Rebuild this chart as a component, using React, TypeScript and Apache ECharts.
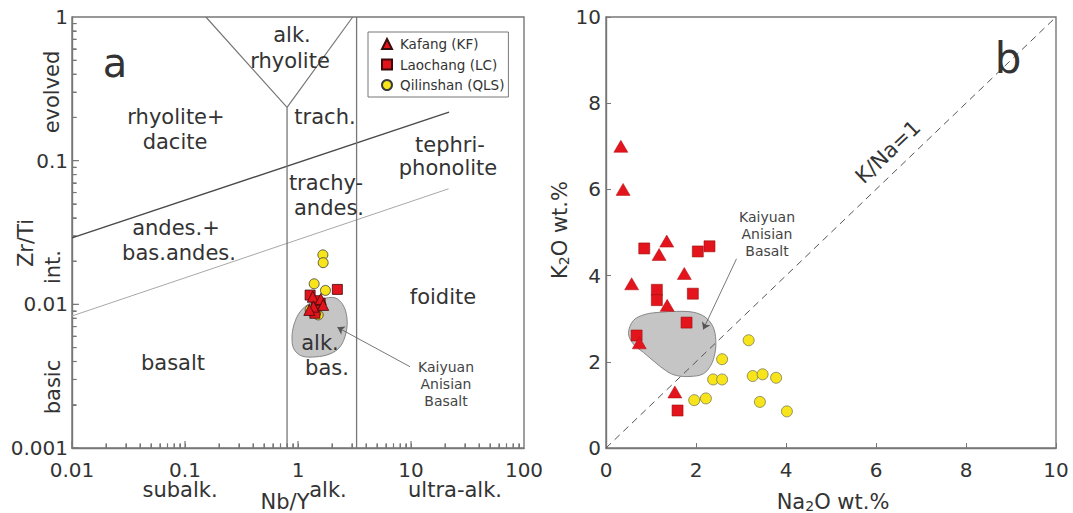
import React, { useEffect, useRef } from 'react';
import * as echarts from 'echarts';

// ---- Panel a: Zr/Ti vs Nb/Y (log-log) ----
const KF_A: number[][] = [[1.35, 0.0113], [1.59, 0.0109], [1.37, 0.00964], [1.67, 0.00991], [1.26, 0.00914]];
const LC_A: number[][] = [[2.23, 0.0127], [1.28, 0.0116], [1.41, 0.00867], [1.57, 0.0102], [1.45, 0.0106]];
const QLS_A: number[][] = [[1.66, 0.0221], [1.67, 0.0195], [1.39, 0.0139], [1.75, 0.0125], [1.28, 0.00914], [1.51, 0.00844], [1.44, 0.00875]];

// Kaiyuan Anisian Basalt field (panel a)
const BLOB_A: number[][] = [
  [1.04, 0.00885], [1.28, 0.0102], [1.63, 0.0109], [2.12, 0.0111], [2.5, 0.00991], [2.71, 0.00804],
  [2.66, 0.00632], [2.35, 0.00505], [1.92, 0.00452], [1.44, 0.00431], [1.08, 0.00437], [0.92, 0.00489],
  [0.885, 0.00584], [0.92, 0.00719],
];

// Field boundaries (panel a)
const UPPER_A: number[][] = [[0.01, 0.029], [21.7, 0.218]];
const LOWER_A: number[][] = [[0.01, 0.0083], [21.5, 0.0637]];
const TRIANGLE_A: number[][] = [[0.153, 1], [0.8, 0.235], [3.05, 1]];
const VLINE1_A: number[][] = [[0.8, 0.001], [0.8, 0.235]];
const VLINE2_A: number[][] = [[3.3, 0.001], [3.3, 1]];
const ARROW_A: number[][] = [[9.8, 0.00368], [2.23, 0.00692]];

// Log-axis tick structure
const DECADES_X = [0.01, 0.1, 1, 10];
const DECADES_Y = [0.001, 0.01, 0.1];
const MINOR_STEPS = [2, 3, 4, 5, 6, 7, 8, 9];

// ---- Panel b: K2O vs Na2O ----
const KF_B: number[][] = [[0.33, 7.0], [0.38, 6.0], [0.57, 3.81], [1.18, 4.49], [1.35, 4.8], [1.74, 4.05], [1.36, 3.31], [0.74, 2.44], [1.53, 1.3]];
const LC_B: number[][] = [[0.85, 4.63], [1.13, 3.67], [1.13, 3.43], [2.04, 4.56], [2.3, 4.68], [1.93, 3.58], [1.79, 2.91], [0.68, 2.61], [1.59, 0.87]];
const QLS_B: number[][] = [[3.17, 2.5], [2.58, 2.06], [2.38, 1.59], [2.58, 1.59], [3.26, 1.67], [3.48, 1.71], [3.78, 1.63], [1.96, 1.11], [2.22, 1.15], [3.42, 1.07], [4.02, 0.85]];

const BLOB_B: number[][] = [
  [0.5, 2.66], [0.61, 2.96], [0.87, 3.1], [1.2, 3.15], [1.57, 3.17], [1.94, 3.15], [2.2, 3.04], [2.38, 2.81],
  [2.44, 2.5], [2.42, 2.19], [2.33, 1.92], [2.16, 1.72], [1.87, 1.66], [1.57, 1.68], [1.35, 1.78], [1.09, 1.99],
  [0.83, 2.22], [0.61, 2.41],
];
const KNA_LINE: number[][] = [[0, 0], [10, 10]];
const ARROW_B: number[][] = [[2.9, 4.39], [2.16, 2.75]];

const NAMES = ['Kafang (KF)', 'Laochang (LC)', 'Qilinshan (QLS)'];

const FONT = 'DejaVu Sans';
const INK = '#333';
const FRAME = '#777';
const RED = '#e3141c';
const YELLOW = '#f7e41a';

function txt(text: string, x: number, y: number, fontSize: number, extra: any = {}) {
  const { style, ...rest } = extra;
  return {
    type: 'text',
    x,
    y,
    silent: true,
    z: 50,
    style: { text, fontSize, fontFamily: FONT, fill: INK, align: 'center', verticalAlign: 'middle', ...(style || {}) },
    ...rest,
  };
}

function sub(main1: string, s: string, main2: string, x: number, y: number, rotation = 0) {
  return {
    type: 'text',
    x,
    y,
    rotation,
    silent: true,
    z: 50,
    style: {
      text: `{a|${main1}}{s|${s}}{a|${main2}}`,
      align: 'center',
      verticalAlign: 'middle',
      fontFamily: FONT,
      rich: {
        a: { fontSize: 21, fontFamily: FONT, fill: INK, color: INK },
        s: { fontSize: 14, fontFamily: FONT, fill: INK, color: INK, verticalAlign: 'bottom' },
      },
    },
  };
}

// log ticks, [value, isMajor]
const X_TICKS_A: number[][] = DECADES_X.flatMap((d) => [[d, 1], ...MINOR_STEPS.map((m) => [d * m, 0])]);
const Y_TICKS_A: number[][] = DECADES_Y.flatMap((d) => [[d, 1], ...MINOR_STEPS.map((m) => [d * m, 0])]);
const tickLen = (major: number) => (major ? 7 : 4.5);

// Field polygon; panel a also carries its inward log ticks in the same group
function blobSeries(idx: number, pts: number[][], withTicks: boolean) {
  return {
    type: 'custom',
    xAxisIndex: idx,
    yAxisIndex: idx,
    silent: true,
    data: pts,
    renderItem: (params: any, api: any) => {
      if (params.dataIndex !== 0) return null;
      const points = pts.map((p) => api.coord(p));
      const children: any[] = [
        {
          type: 'polygon',
          shape: { points, smooth: 0.35 },
          style: { fill: '#c5c5c5', stroke: '#7c7c7c', lineWidth: 0.9 },
        },
      ];
      if (withTicks) {
        X_TICKS_A.forEach(([v, major]) => {
          const p = api.coord([v, 0.001]);
          const l = tickLen(major);
          children.push({
            type: 'polygon',
            shape: { points: [[p[0] - 0.6, p[1]], [p[0] + 0.6, p[1]], [p[0] + 0.6, p[1] - l], [p[0] - 0.6, p[1] - l]] },
            style: { fill: FRAME },
          });
        });
        Y_TICKS_A.forEach(([v, major]) => {
          const p = api.coord([0.01, v]);
          const l = tickLen(major);
          children.push({
            type: 'polygon',
            shape: { points: [[p[0], p[1] - 0.6], [p[0] + l, p[1] - 0.6], [p[0] + l, p[1] + 0.6], [p[0], p[1] + 0.6]] },
            style: { fill: FRAME },
          });
        });
      }
      return { type: 'group', children };
    },
  };
}

function lineSeries(data: number[][], color: string, width: number, type: any = 'solid', extra: any = {}) {
  return {
    type: 'line',
    xAxisIndex: 0,
    yAxisIndex: 0,
    data,
    symbol: 'none',
    silent: true,
    lineStyle: { color, width, type },
    ...extra,
  };
}

function arrowMark(pts: number[][]) {
  return {
    silent: true,
    symbol: ['none', 'arrow'],
    symbolSize: 7,
    label: { show: false },
    lineStyle: { color: '#555', width: 0.8, type: 'solid' },
    data: [[{ coord: pts[0] }, { coord: pts[1] }]],
  };
}

const logFmt = (v: number) => String(parseFloat(Number(v).toPrecision(2)));

const axisLabel = { fontFamily: FONT, fontSize: 20, color: INK };

const option: any = {
  animation: false,
  backgroundColor: '#fff',
  grid: [
    { left: 72, top: 17, width: 452, height: 431, show: true, borderColor: FRAME, borderWidth: 1.4 },
    { left: 606, top: 17, width: 450, height: 431, show: true, borderColor: FRAME, borderWidth: 1.4 },
  ],
  xAxis: [
    {
      gridIndex: 0, type: 'log', logBase: 10, min: 0.01, max: 100,
      axisLine: { lineStyle: { color: FRAME, width: 1.4 } },
      axisTick: { show: true, inside: true, length: 4.5, customValues: X_TICKS_A.map((t) => t[0]), lineStyle: { color: FRAME } },
      splitLine: { show: false },
      axisLabel: { ...axisLabel, margin: 14, lineHeight: 16, formatter: logFmt },
    },
    {
      gridIndex: 1, type: 'value', min: 0, max: 10, interval: 2,
      axisLine: { lineStyle: { color: FRAME, width: 1.4 } },
      axisTick: { inside: true, length: 5, lineStyle: { color: FRAME } }, splitLine: { show: false },
      axisLabel: { ...axisLabel, margin: 14, lineHeight: 16 },
    },
  ],
  yAxis: [
    {
      gridIndex: 0, type: 'log', logBase: 10, min: 0.001, max: 1,
      axisLine: { lineStyle: { color: FRAME, width: 1.4 } },
      axisTick: { show: true, inside: true, length: 4.5, customValues: Y_TICKS_A.map((t) => t[0]), lineStyle: { color: FRAME } },
      splitLine: { show: false },
      axisLabel: { ...axisLabel, margin: 4, formatter: logFmt },
    },
    {
      gridIndex: 1, type: 'value', min: 0, max: 10, interval: 2,
      axisLine: { lineStyle: { color: FRAME, width: 1.4 } },
      axisTick: { inside: true, length: 5, lineStyle: { color: FRAME } }, splitLine: { show: false },
      axisLabel: { ...axisLabel, margin: 5 },
    },
  ],
  legend: {
    data: NAMES,
    orient: 'vertical',
    left: 368,
    top: 32,
    padding: [5, 4, 5, 13],
    itemWidth: 10,
    itemHeight: 10,
    itemGap: 6.5,
    borderColor: '#777',
    borderWidth: 1,
    selectedMode: false,
    textStyle: { fontFamily: FONT, fontSize: 13.5, color: INK, lineHeight: 14, padding: [0, 0, 0, 3] },
  },
  series: [
    // panel a
    blobSeries(0, BLOB_A, true),
    lineSeries(UPPER_A, '#4a4a4a', 1.4),
    lineSeries(LOWER_A, '#a8a8a8', 1),
    lineSeries(TRIANGLE_A, '#777', 1.2),
    lineSeries(VLINE1_A, '#777', 1.3),
    lineSeries(VLINE2_A, '#777', 1.3, 'solid', { markLine: arrowMark(ARROW_A) }),
    {
      name: NAMES[2], type: 'scatter', xAxisIndex: 0, yAxisIndex: 0, data: QLS_A, symbol: 'circle', symbolSize: 10,
      itemStyle: { color: YELLOW, borderColor: '#3a3a3a', borderWidth: 0.8, opacity: 1 },
    },
    {
      name: NAMES[1], type: 'scatter', xAxisIndex: 0, yAxisIndex: 0, data: LC_A, symbol: 'rect', symbolSize: 10,
      itemStyle: { color: RED, borderColor: '#3a0b0b', borderWidth: 0.8, opacity: 1 },
    },
    {
      name: NAMES[0], type: 'scatter', xAxisIndex: 0, yAxisIndex: 0, data: KF_A, symbol: 'triangle', symbolSize: 11,
      itemStyle: { color: RED, borderColor: '#3a0b0b', borderWidth: 0.8, opacity: 1 },
    },
    // panel b
    blobSeries(1, BLOB_B, false),
    {
      type: 'line', xAxisIndex: 1, yAxisIndex: 1, data: KNA_LINE, symbol: 'none', silent: true,
      lineStyle: { color: '#555', width: 1, type: [7, 5] },
      markLine: arrowMark(ARROW_B),
    },
    {
      name: NAMES[2], type: 'scatter', xAxisIndex: 1, yAxisIndex: 1, data: QLS_B, symbol: 'circle', symbolSize: 11,
      itemStyle: { color: YELLOW, borderColor: '#7a7a5a', borderWidth: 0.8, opacity: 1 },
    },
    {
      name: NAMES[1], type: 'scatter', xAxisIndex: 1, yAxisIndex: 1, data: LC_B, symbol: 'rect', symbolSize: 11,
      itemStyle: { color: RED, borderColor: '#9a1010', borderWidth: 0.6, opacity: 1 },
    },
    {
      name: NAMES[0], type: 'scatter', xAxisIndex: 1, yAxisIndex: 1, data: KF_B, symbol: 'triangle', symbolSize: [14, 12],
      itemStyle: { color: RED, borderColor: '#b00d12', borderWidth: 0.5, opacity: 1 },
    },
  ],
  graphic: [
    // panel a annotations
    txt('a', 115, 63, 40),
    txt('alk.', 292, 35, 21),
    txt('rhyolite', 290, 61, 21),
    txt('rhyolite+', 176, 117, 21),
    txt('dacite', 175, 142, 21),
    txt('trach.', 325, 117, 21),
    txt('tephri-', 450, 145, 21),
    txt('phonolite', 448, 168, 21),
    txt('trachy-', 326, 183, 21),
    txt('andes.', 329, 208, 21),
    txt('andes.+', 176, 228, 21),
    txt('bas.andes.', 179, 253, 21),
    txt('foidite', 443, 297, 21),
    txt('alk.', 320, 343, 21),
    txt('bas.', 327, 368, 21),
    txt('basalt', 173, 363, 21),
    txt('Kaiyuan', 446, 367, 14, { style: { fill: '#444' } }),
    txt('Anisian', 446, 384, 14, { style: { fill: '#444' } }),
    txt('Basalt', 446, 401, 14, { style: { fill: '#444' } }),
    txt('evolved', 52, 92, 21, { rotation: Math.PI / 2 }),
    txt('Zr/Ti', 26, 243, 21, { rotation: Math.PI / 2 }),
    txt('int.', 53, 267, 21, { rotation: Math.PI / 2 }),
    txt('basic', 53, 387, 21, { rotation: Math.PI / 2 }),
    txt('subalk.', 180, 490, 21, { style: { lineHeight: 16 } }),
    txt('alk.', 328, 490, 21, { style: { lineHeight: 16 } }),
    txt('ultra-alk.', 455, 490, 21, { style: { lineHeight: 16 } }),
    txt('Nb/Y', 285, 502, 21),
    // panel b annotations
    txt('b', 1008, 58, 42),
    txt('K/Na=1', 888, 152, 21, { rotation: Math.atan(431 / 450) }),
    txt('Kaiyuan', 767, 217, 14, { style: { fill: '#444' } }),
    txt('Anisian', 767, 234, 14, { style: { fill: '#444' } }),
    txt('Basalt', 767, 251, 14, { style: { fill: '#444' } }),
    sub('K', '2', 'O wt.%', 560, 230, Math.PI / 2),
    sub('Na', '2', 'O wt.%', 833, 502),
  ],
};

export default function App() {
  const ref = useRef<HTMLDivElement>(null);
  useEffect(() => {
    document.body.style.margin = '0';
    const chart = echarts.init(ref.current as HTMLDivElement, null, { renderer: 'svg' });
    chart.setOption(option);
    return () => chart.dispose();
  }, []);
  return <div ref={ref} style={{ width: 1073, height: 513 }} />;
}
